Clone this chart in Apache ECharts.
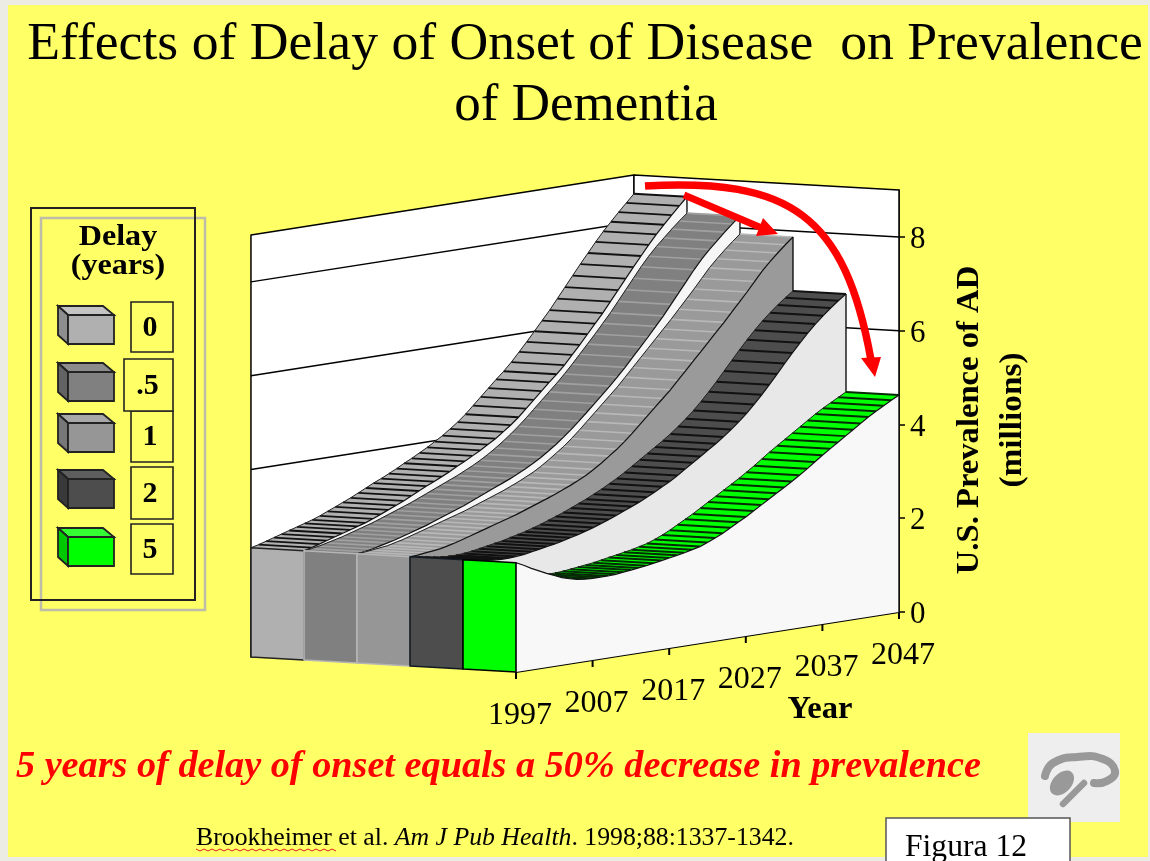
<!DOCTYPE html>
<html>
<head>
<meta charset="utf-8">
<title>Effects of Delay of Onset of Disease on Prevalence of Dementia</title>
<style>
html, body { margin: 0; padding: 0; background: #ecebe4; }
#main { width: 1150px; height: 861px; }
</style>
<script src="https://cdn.jsdelivr.net/npm/echarts@6/dist/echarts.min.js"></script>
</head>
<body>
<div id="main"></div>
<script>
// one value per year, 1997..2047
var years = [];
for (var yr = 1997; yr <= 2047; yr++) years.push(yr);

var delays = ['0', '.5', '1', '2', '5'];
var yearLabels = [1997, 2007, 2017, 2027, 2037, 2047];
var valueTicks = [0, 2, 4, 6, 8];

var delay0 = [2.33, 2.37, 2.42, 2.47, 2.52, 2.57, 2.62, 2.67, 2.72, 2.78, 2.85, 2.92, 2.99, 3.06, 3.14, 3.22, 3.30, 3.37, 3.45, 3.53, 3.62, 3.70, 3.79, 3.88, 3.98, 4.08, 4.20, 4.32, 4.46, 4.62, 4.78, 4.94, 5.10, 5.25, 5.42, 5.61, 5.80, 6.00, 6.20, 6.40, 6.62, 6.84, 7.06, 7.28, 7.49, 7.70, 7.90, 8.08, 8.26, 8.43, 8.60];
var delay05 = [2.33, 2.35, 2.38, 2.42, 2.46, 2.50, 2.55, 2.60, 2.65, 2.70, 2.76, 2.82, 2.88, 2.94, 3.00, 3.07, 3.14, 3.21, 3.28, 3.35, 3.42, 3.50, 3.58, 3.67, 3.77, 3.88, 4.00, 4.13, 4.27, 4.42, 4.58, 4.74, 4.90, 5.06, 5.23, 5.41, 5.60, 5.79, 5.98, 6.18, 6.38, 6.60, 6.82, 7.04, 7.26, 7.46, 7.64, 7.80, 7.96, 8.11, 8.25];
var delay1 = [2.33, 2.34, 2.36, 2.38, 2.40, 2.44, 2.48, 2.53, 2.58, 2.63, 2.68, 2.73, 2.78, 2.83, 2.88, 2.94, 3.00, 3.06, 3.12, 3.18, 3.25, 3.32, 3.40, 3.48, 3.58, 3.69, 3.81, 3.93, 4.07, 4.22, 4.38, 4.54, 4.70, 4.86, 5.02, 5.20, 5.38, 5.56, 5.74, 5.92, 6.10, 6.28, 6.47, 6.66, 6.85, 7.05, 7.25, 7.42, 7.58, 7.73, 7.87];
var delay2 = [2.33, 2.30, 2.27, 2.24, 2.22, 2.21, 2.21, 2.22, 2.24, 2.27, 2.30, 2.33, 2.36, 2.40, 2.44, 2.48, 2.53, 2.58, 2.64, 2.70, 2.76, 2.83, 2.90, 2.97, 3.05, 3.13, 3.22, 3.31, 3.41, 3.52, 3.63, 3.74, 3.85, 3.96, 4.08, 4.21, 4.35, 4.50, 4.67, 4.85, 5.04, 5.24, 5.44, 5.64, 5.83, 6.01, 6.18, 6.33, 6.47, 6.60, 6.72];
var delay5 = [2.33, 2.25, 2.16, 2.08, 2.00, 1.93, 1.86, 1.81, 1.77, 1.75, 1.74, 1.74, 1.74, 1.75, 1.77, 1.79, 1.81, 1.83, 1.86, 1.89, 1.92, 1.95, 1.98, 2.02, 2.06, 2.12, 2.19, 2.27, 2.36, 2.45, 2.54, 2.64, 2.74, 2.84, 2.94, 3.04, 3.14, 3.25, 3.36, 3.48, 3.60, 3.71, 3.82, 3.93, 4.04, 4.15, 4.26, 4.36, 4.45, 4.54, 4.63];
var seriesValues = [delay0, delay05, delay1, delay2, delay5];

var topColors   = ['#b0b0b0', '#808080', '#9a9a9a', '#4d4d4d', '#00ff00'];
var stripeColors = ['#111111', '#a0a0a0', '#b8b8b8', '#111111', '#062a06'];
var stripeWidths = [1.8, 1.6, 1.6, 2, 2];
var sideColors  = ['#f6f6f6', '#f6f6f6', '#9a9a9a', '#e8e8e8', '#f8f8f8'];
var frontColors = ['#b0b0b0', '#808080', '#969696', '#4d4d4d', '#00ff00'];
var frontEdges  = ['#222222', '#b5b5b5', '#b5b5b5', '#111a22', '#000000'];
var legendTop   = ['#c4c4c4', '#8c8c8c', '#a8a8a8', '#5e5e5e', '#33ff33'];
var legendLeft  = ['#8e8e8e', '#636363', '#777777', '#393939', '#00c800'];

// oblique projection: the grid is the front wall, depth is counted in ribbon widths
var YEARS_PER_DEPTH = 6.92;
var VALUE_PER_DEPTH = 0.064;
var LIFT_PER_YEAR = 0.02559;
var DEPTHS = delays.length;

function project(api, year, depth, value) {
    return api.coord([
        year - depth * YEARS_PER_DEPTH,
        value - (2047 - year) * LIFT_PER_YEAR + depth * VALUE_PER_DEPTH
    ]);
}

function poly(points, fill, stroke, lineWidth, z2) {
    return {
        type: 'polygon',
        z2: z2,
        shape: { points: points },
        style: { fill: fill, stroke: stroke || 'none', lineWidth: lineWidth || 0, lineJoin: 'round' }
    };
}

function line(points, stroke, lineWidth, z2) {
    return {
        type: 'polyline',
        z2: z2,
        shape: { points: points },
        style: { fill: 'none', stroke: stroke, lineWidth: lineWidth }
    };
}

// walls, gridlines and the ticks and labels of the slanted year axis
function renderWalls(params, api) {
    var far = DEPTHS;
    var top = 9;
    var children = [
        poly([project(api, 1997, far, 0), project(api, 1997, far, top), project(api, 2047, far, top), project(api, 2047, far, 0)], '#ffffff', '#000000', 1.5, 1),
        poly([project(api, 2047, far, 0), project(api, 2047, far, top), project(api, 2047, 0, top), project(api, 2047, 0, 0)], '#ffffff', '#000000', 1.5, 1)
    ];
    valueTicks.forEach(function (v) {
        if (v === 0) return;
        children.push(line([project(api, 1997, far, v), project(api, 2047, far, v), project(api, 2047, 0, v)], '#000000', 1.5, 2));
    });
    return { type: 'group', children: children };
}

function renderYearAxis(params, api) {
    var children = [line([project(api, 1997, 0, 0), project(api, 2047, 0, 0)], '#000000', 1.8, 1)];
    yearLabels.forEach(function (y) {
        var p = project(api, y, 0, 0);
        children.push(line([p, [p[0], p[1] + 7]], '#000000', 2, 1));
        children.push({
            type: 'text',
            z2: 2,
            x: p[0] + 4,
            y: p[1] + 44,
            style: { text: String(y), fontFamily: 'Liberation Serif', fontSize: 32, fill: '#000000', align: 'center', verticalAlign: 'middle' }
        });
    });
    return { type: 'group', children: children };
}

function renderRibbon(s) {
    return function (params, api) {
        var i = params.dataIndex;
        var values = seriesValues[s];
        var back = DEPTHS - s;
        var front = back - 1;
        var children = [];
        if (i < years.length - 1) {
            var a = project(api, years[i], front, values[i]);
            var b = project(api, years[i + 1], front, values[i + 1]);
            var c = project(api, years[i + 1], back, values[i + 1]);
            var d = project(api, years[i], back, values[i]);
            // skip the strips that face away from the viewer
            var cross = (b[0] - a[0]) * (d[1] - a[1]) - (b[1] - a[1]) * (d[0] - a[0]);
            if (cross < 0) {
                children.push(poly([a, b, c, d], topColors[s], topColors[s], 0.3, 1));
                children.push(line([b, c], stripeColors[s], stripeWidths[s], 2));
            }
        }
        if (i === 0) {
            var wall = [project(api, years[0], front, 0)];
            var edge = [];
            var backEdge = [];
            for (var k = 0; k < years.length; k++) {
                var pt = project(api, years[k], front, values[k]);
                wall.push(pt);
                edge.push(pt);
                backEdge.push(project(api, years[k], back, values[k]));
            }
            wall.push(project(api, years[years.length - 1], front, 0));
            children.push(line(backEdge, '#222222', 1, 3));
            children.push(poly(wall, sideColors[s], 'none', 0, 4));
            children.push(line(edge, '#111111', 1.2, 5));
            children.push(line([project(api, 2047, front, values[values.length - 1]), project(api, 2047, front, 0)], '#111111', 1.4, 5));
            children.push(poly([
                project(api, 1997, back, 0),
                project(api, 1997, back, values[0]),
                project(api, 1997, front, values[0]),
                project(api, 1997, front, 0)
            ], frontColors[s], frontEdges[s], 1.6, 6));
        }
        return { type: 'group', children: children };
    };
}

var series = [
    { type: 'custom', name: 'walls', z: 1, silent: true, clip: false, data: [[1997, 0]], renderItem: renderWalls },
    { type: 'custom', name: 'year axis', z: 2, silent: true, clip: false, data: [[1997, 0]], renderItem: renderYearAxis }
];
delays.forEach(function (name, s) {
    series.push({
        type: 'custom',
        name: name,
        z: 3 + s,
        silent: true,
        clip: false,
        data: years.map(function (y, i) { return [y, seriesValues[s][i]]; }),
        renderItem: renderRibbon(s)
    });
});

function txt(text, x, y, size, opts) {
    opts = opts || {};
    return {
        type: 'text',
        z: opts.z || 60,
        x: x,
        y: y,
        rotation: opts.rotation || 0,
        scaleX: opts.scaleX || 1,
        style: {
            text: text,
            fontFamily: 'Liberation Serif',
            fontSize: size,
            fontWeight: opts.weight || 'normal',
            fontStyle: opts.italic ? 'italic' : 'normal',
            fill: opts.fill || '#000000',
            align: opts.align || 'center',
            verticalAlign: 'middle'
        }
    };
}

function rect(x, y, w, h, fill, stroke, lineWidth, z) {
    return { type: 'rect', z: z, shape: { x: x, y: y, width: w, height: h }, style: { fill: fill, stroke: stroke, lineWidth: lineWidth } };
}

function curve(points, stroke, width, z, smooth) {
    return { type: 'polyline', z: z, shape: { points: points, smooth: smooth }, style: { fill: 'none', stroke: stroke, lineWidth: width, lineCap: 'round' } };
}

function triangle(points, fill, z) {
    return { type: 'polygon', z: z, shape: { points: points }, style: { fill: fill } };
}

var graphics = [
    rect(8, 5, 1140, 852, '#ffff66', 'none', 0, -5),
    txt('Effects of Delay of Onset of Disease  on Prevalence', 585, 45, 53, { scaleX: 1.013 }),
    txt('of Dementia', 586, 106, 53),

    // legend frames
    rect(41, 218, 164, 392, 'none', '#bdbdaa', 2.5, 20),
    rect(31, 208, 164, 392, 'none', '#222222', 2, 21),
    txt('Delay', 118, 237, 30, { weight: 'bold', scaleX: 1.07 }),
    txt('(years)', 118, 266, 30, { weight: 'bold', scaleX: 1.07 }),

    // red arrows
    {
        type: 'bezierCurve',
        z: 50,
        shape: { x1: 645, y1: 186, cpx1: 790, cpy1: 178, cpx2: 845, cpy2: 215, x2: 871, y2: 360 },
        style: { fill: 'none', stroke: '#ff0000', lineWidth: 7.5 }
    },
    triangle([[861, 358], [881, 357], [875, 377]], '#ff0000', 50),
    { type: 'line', z: 50, shape: { x1: 684, y1: 195, x2: 764, y2: 229 }, style: { stroke: '#ff0000', lineWidth: 7 } },
    triangle([[763, 218], [778, 234], [756, 236]], '#ff0000', 50),

    txt('U.S. Prevalence of AD', 970, 420, 32, { weight: 'bold', rotation: Math.PI / 2, scaleX: 1.02 }),
    txt('(millions)', 1013, 420, 32, { weight: 'bold', rotation: Math.PI / 2, scaleX: 1.04 }),
    txt('Year', 820, 710, 31, { weight: 'bold', scaleX: 1.05 }),

    txt('5 years of delay of onset equals a 50% decrease in prevalence', 498.5, 767, 38, { weight: 'bold', italic: true, fill: '#ff0000', scaleX: 1.006 }),

    // citation
    {
        type: 'text',
        z: 60,
        x: 196,
        y: 838,
        scaleX: 1.03,
        style: {
            text: 'Brookheimer et al. {i|Am J Pub Health}. 1998;88:1337-1342.',
            fontFamily: 'Liberation Serif',
            fontSize: 25,
            fill: '#000000',
            verticalAlign: 'middle',
            rich: { i: { fontFamily: 'Liberation Serif', fontSize: 25, fontStyle: 'italic', fill: '#000000' } }
        }
    },

    // the gray logo
    rect(1028, 733, 92, 89, '#eeeeee', 'none', 0, 30),
    curve([[1045, 776], [1053, 763], [1077, 757], [1103, 759], [1115, 771], [1107, 781], [1094, 783]], '#999999', 8, 31, 0.5),
    { type: 'ellipse', z: 31, shape: { cx: 1062, cy: 783, rx: 9.5, ry: 14.5 }, rotation: -0.75, originX: 1062, originY: 783, style: { fill: '#999999' } },
    curve([[1063, 804], [1084, 783]], '#999999', 6.5, 31, 0),

    // figure tag
    rect(886, 818, 184, 60, '#ffffff', '#555555', 1.5, 40),
    txt('Figura 12', 966, 848, 31, { z: 41, scaleX: 1.02 })
];

// squiggle under the name, the spell checker mark
var squiggle = [];
for (var sx = 196; sx <= 338; sx += 4) squiggle.push([sx, (sx - 196) % 8 === 0 ? 849 : 851]);
graphics.push({ type: 'polyline', z: 61, shape: { points: squiggle }, style: { fill: 'none', stroke: '#e02020', lineWidth: 1 } });

// legend rows
var legendRows = [306, 363, 414, 470, 528];
var labelRows = [[131, 302, 42, 50], [124, 359, 49, 52], [131, 411, 42, 51], [131, 467, 42, 52], [131, 524, 42, 50]];
delays.forEach(function (name, s) {
    var y = legendRows[s];
    graphics.push({ type: 'polygon', z: 22, shape: { points: [[58, y], [103, y], [114, y + 9], [68, y + 9]] }, style: { fill: legendTop[s], stroke: '#222222', lineWidth: 1.8 } });
    graphics.push({ type: 'polygon', z: 22, shape: { points: [[58, y], [68, y + 9], [68, y + 38], [58, y + 29]] }, style: { fill: legendLeft[s], stroke: '#222222', lineWidth: 1.8 } });
    graphics.push(rect(68, y + 9, 46, 29, frontColors[s], '#222222', 1.8, 22));
    var b = labelRows[s];
    graphics.push(rect(b[0], b[1], b[2], b[3], s === 1 ? '#ffff66' : 'none', '#222222', 1.6, s === 1 ? 24 : 23));
    graphics.push(txt(name, b[0] + b[2] / 2 - (s === 1 ? 1 : 2), b[1] + b[3] / 2 + 1, 30, { weight: 'bold' }));
});

var chart = echarts.init(document.getElementById('main'), null, { renderer: 'canvas' });
chart.setOption({
    animation: false,
    backgroundColor: '#ecebe4',
    grid: { left: 516, right: 251, top: 190, bottom: 249, containLabel: false },
    xAxis: { type: 'value', min: 1997, max: 2047, show: false },
    yAxis: {
        type: 'value',
        position: 'right',
        min: 0,
        max: 9,
        interval: 1,
        splitLine: { show: false },
        axisLine: { show: true, onZero: false, lineStyle: { color: '#000000', width: 1.5 } },
        axisTick: { show: true, inside: false, length: 6, customValues: valueTicks, lineStyle: { color: '#000000', width: 1.5 } },
        axisLabel: {
            customValues: valueTicks,
            margin: 11,
            color: '#000000',
            formatter: '{num|{value}}',
            rich: { num: { fontFamily: 'Liberation Serif', fontSize: 31, color: '#000000', padding: [6, 0, 0, 0] } }
        }
    },
    graphic: { elements: graphics },
    series: series
});
</script>
</body>
</html>
